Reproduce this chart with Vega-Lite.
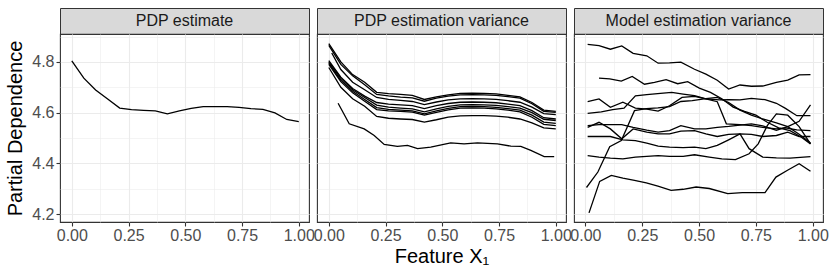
{
 "$schema": "https://vega.github.io/schema/vega-lite/v6.json",
 "padding": {"left": 5, "top": 7, "right": 0, "bottom": 0},
 "background": "white",
 "config": {
  "view": {"stroke": "#333333", "strokeWidth": 1.1},
  "axis": {"domain": false, "gridColor": "#EBEBEB", "tickColor": "#333333", "tickSize": 4, "tickWidth": 1.1, "labelFont": "Liberation Sans", "labelFontSize": 16, "labelColor": "#4D4D4D", "labelOverlap": false, "labelFlush": false, "titleFont": "Liberation Sans", "titleFontSize": 20, "titleFontWeight": "normal", "titleColor": "#000000", "labelPadding": 2}
 },
 "datasets": {
  "pdp": [
   {"run":"p","x":0,"y":4.804},{"run":"p","x":0.053,"y":4.736},{"run":"p","x":0.105,"y":4.689},{"run":"p","x":0.158,"y":4.654},{"run":"p","x":0.211,"y":4.618},{"run":"p","x":0.263,"y":4.612},{"run":"p","x":0.316,"y":4.609},{"run":"p","x":0.368,"y":4.607},{"run":"p","x":0.421,"y":4.595},{"run":"p","x":0.474,"y":4.607},{"run":"p","x":0.526,"y":4.617},{"run":"p","x":0.579,"y":4.624},{"run":"p","x":0.632,"y":4.624},{"run":"p","x":0.684,"y":4.624},{"run":"p","x":0.737,"y":4.621},{"run":"p","x":0.789,"y":4.616},{"run":"p","x":0.842,"y":4.613},{"run":"p","x":0.895,"y":4.599},{"run":"p","x":0.947,"y":4.573},{"run":"p","x":1,"y":4.565}
  ],
  "pdpvar": [
   {"run":"1","x":0,"y":4.872},{"run":"1","x":0.053,"y":4.8},{"run":"1","x":0.105,"y":4.75},{"run":"1","x":0.158,"y":4.72},{"run":"1","x":0.211,"y":4.68},{"run":"1","x":0.263,"y":4.675},{"run":"1","x":0.316,"y":4.672},{"run":"1","x":0.368,"y":4.668},{"run":"1","x":0.421,"y":4.652},{"run":"1","x":0.474,"y":4.662},{"run":"1","x":0.526,"y":4.67},{"run":"1","x":0.579,"y":4.676},{"run":"1","x":0.632,"y":4.677},{"run":"1","x":0.684,"y":4.676},{"run":"1","x":0.737,"y":4.674},{"run":"1","x":0.789,"y":4.668},{"run":"1","x":0.842,"y":4.662},{"run":"1","x":0.895,"y":4.64},{"run":"1","x":0.947,"y":4.61},{"run":"1","x":1,"y":4.605},
   {"run":"2","x":0,"y":4.865},{"run":"2","x":0.053,"y":4.79},{"run":"2","x":0.105,"y":4.745},{"run":"2","x":0.158,"y":4.71},{"run":"2","x":0.211,"y":4.672},{"run":"2","x":0.263,"y":4.666},{"run":"2","x":0.316,"y":4.661},{"run":"2","x":0.368,"y":4.658},{"run":"2","x":0.421,"y":4.645},{"run":"2","x":0.474,"y":4.657},{"run":"2","x":0.526,"y":4.665},{"run":"2","x":0.579,"y":4.67},{"run":"2","x":0.632,"y":4.671},{"run":"2","x":0.684,"y":4.67},{"run":"2","x":0.737,"y":4.668},{"run":"2","x":0.789,"y":4.663},{"run":"2","x":0.842,"y":4.657},{"run":"2","x":0.895,"y":4.635},{"run":"2","x":0.947,"y":4.605},{"run":"2","x":1,"y":4.601},
   {"run":"3","x":0.013,"y":4.835},{"run":"3","x":0.053,"y":4.77},{"run":"3","x":0.105,"y":4.72},{"run":"3","x":0.158,"y":4.69},{"run":"3","x":0.211,"y":4.66},{"run":"3","x":0.263,"y":4.652},{"run":"3","x":0.316,"y":4.648},{"run":"3","x":0.368,"y":4.644},{"run":"3","x":0.421,"y":4.632},{"run":"3","x":0.474,"y":4.642},{"run":"3","x":0.526,"y":4.65},{"run":"3","x":0.579,"y":4.654},{"run":"3","x":0.632,"y":4.655},{"run":"3","x":0.684,"y":4.654},{"run":"3","x":0.737,"y":4.652},{"run":"3","x":0.789,"y":4.647},{"run":"3","x":0.842,"y":4.641},{"run":"3","x":0.895,"y":4.622},{"run":"3","x":0.947,"y":4.596},{"run":"3","x":1,"y":4.592},
   {"run":"4","x":0,"y":4.805},{"run":"4","x":0.053,"y":4.74},{"run":"4","x":0.105,"y":4.695},{"run":"4","x":0.158,"y":4.665},{"run":"4","x":0.211,"y":4.64},{"run":"4","x":0.263,"y":4.634},{"run":"4","x":0.316,"y":4.631},{"run":"4","x":0.368,"y":4.628},{"run":"4","x":0.421,"y":4.616},{"run":"4","x":0.474,"y":4.628},{"run":"4","x":0.526,"y":4.636},{"run":"4","x":0.579,"y":4.641},{"run":"4","x":0.632,"y":4.642},{"run":"4","x":0.684,"y":4.641},{"run":"4","x":0.737,"y":4.639},{"run":"4","x":0.789,"y":4.634},{"run":"4","x":0.842,"y":4.628},{"run":"4","x":0.895,"y":4.608},{"run":"4","x":0.947,"y":4.58},{"run":"4","x":1,"y":4.575},
   {"run":"5","x":0,"y":4.8},{"run":"5","x":0.053,"y":4.735},{"run":"5","x":0.105,"y":4.69},{"run":"5","x":0.158,"y":4.66},{"run":"5","x":0.211,"y":4.63},{"run":"5","x":0.263,"y":4.622},{"run":"5","x":0.316,"y":4.618},{"run":"5","x":0.368,"y":4.615},{"run":"5","x":0.421,"y":4.603},{"run":"5","x":0.474,"y":4.615},{"run":"5","x":0.526,"y":4.625},{"run":"5","x":0.579,"y":4.631},{"run":"5","x":0.632,"y":4.632},{"run":"5","x":0.684,"y":4.631},{"run":"5","x":0.737,"y":4.629},{"run":"5","x":0.789,"y":4.624},{"run":"5","x":0.842,"y":4.618},{"run":"5","x":0.895,"y":4.6},{"run":"5","x":0.947,"y":4.574},{"run":"5","x":1,"y":4.569},
   {"run":"6","x":0,"y":4.795},{"run":"6","x":0.053,"y":4.728},{"run":"6","x":0.105,"y":4.684},{"run":"6","x":0.158,"y":4.652},{"run":"6","x":0.211,"y":4.62},{"run":"6","x":0.263,"y":4.613},{"run":"6","x":0.316,"y":4.61},{"run":"6","x":0.368,"y":4.607},{"run":"6","x":0.421,"y":4.595},{"run":"6","x":0.474,"y":4.607},{"run":"6","x":0.526,"y":4.617},{"run":"6","x":0.579,"y":4.624},{"run":"6","x":0.632,"y":4.625},{"run":"6","x":0.684,"y":4.624},{"run":"6","x":0.737,"y":4.621},{"run":"6","x":0.789,"y":4.616},{"run":"6","x":0.842,"y":4.61},{"run":"6","x":0.895,"y":4.59},{"run":"6","x":0.947,"y":4.563},{"run":"6","x":1,"y":4.558},
   {"run":"7","x":0,"y":4.79},{"run":"7","x":0.053,"y":4.722},{"run":"7","x":0.105,"y":4.678},{"run":"7","x":0.158,"y":4.645},{"run":"7","x":0.211,"y":4.612},{"run":"7","x":0.263,"y":4.607},{"run":"7","x":0.316,"y":4.605},{"run":"7","x":0.368,"y":4.602},{"run":"7","x":0.421,"y":4.59},{"run":"7","x":0.474,"y":4.601},{"run":"7","x":0.526,"y":4.611},{"run":"7","x":0.579,"y":4.618},{"run":"7","x":0.632,"y":4.619},{"run":"7","x":0.684,"y":4.618},{"run":"7","x":0.737,"y":4.615},{"run":"7","x":0.789,"y":4.61},{"run":"7","x":0.842,"y":4.603},{"run":"7","x":0.895,"y":4.582},{"run":"7","x":0.947,"y":4.554},{"run":"7","x":1,"y":4.549},
   {"run":"8","x":0,"y":4.778},{"run":"8","x":0.053,"y":4.7},{"run":"8","x":0.105,"y":4.655},{"run":"8","x":0.158,"y":4.625},{"run":"8","x":0.211,"y":4.585},{"run":"8","x":0.263,"y":4.578},{"run":"8","x":0.316,"y":4.575},{"run":"8","x":0.368,"y":4.573},{"run":"8","x":0.421,"y":4.563},{"run":"8","x":0.474,"y":4.572},{"run":"8","x":0.526,"y":4.582},{"run":"8","x":0.579,"y":4.587},{"run":"8","x":0.632,"y":4.588},{"run":"8","x":0.684,"y":4.588},{"run":"8","x":0.737,"y":4.586},{"run":"8","x":0.789,"y":4.582},{"run":"8","x":0.842,"y":4.575},{"run":"8","x":0.895,"y":4.56},{"run":"8","x":0.947,"y":4.54},{"run":"8","x":1,"y":4.536},
   {"run":"9","x":0.041,"y":4.637},{"run":"9","x":0.09,"y":4.556},{"run":"9","x":0.156,"y":4.536},{"run":"9","x":0.2,"y":4.51},{"run":"9","x":0.244,"y":4.475},{"run":"9","x":0.302,"y":4.467},{"run":"9","x":0.347,"y":4.471},{"run":"9","x":0.391,"y":4.458},{"run":"9","x":0.449,"y":4.464},{"run":"9","x":0.537,"y":4.481},{"run":"9","x":0.596,"y":4.477},{"run":"9","x":0.655,"y":4.481},{"run":"9","x":0.743,"y":4.477},{"run":"9","x":0.802,"y":4.468},{"run":"9","x":0.846,"y":4.467},{"run":"9","x":0.89,"y":4.451},{"run":"9","x":0.949,"y":4.427},{"run":"9","x":0.993,"y":4.427}
  ],
  "modelvar": [
   {"run":"1","x":0.01,"y":4.869},{"run":"1","x":0.06,"y":4.864},{"run":"1","x":0.11,"y":4.85},{"run":"1","x":0.16,"y":4.863},{"run":"1","x":0.21,"y":4.834},{"run":"1","x":0.27,"y":4.824},{"run":"1","x":0.32,"y":4.795},{"run":"1","x":0.37,"y":4.796},{"run":"1","x":0.42,"y":4.799},{"run":"1","x":0.48,"y":4.771},{"run":"1","x":0.53,"y":4.752},{"run":"1","x":0.58,"y":4.728},{"run":"1","x":0.63,"y":4.693},{"run":"1","x":0.68,"y":4.709},{"run":"1","x":0.73,"y":4.704},{"run":"1","x":0.78,"y":4.705},{"run":"1","x":0.84,"y":4.719},{"run":"1","x":0.89,"y":4.728},{"run":"1","x":0.94,"y":4.749},{"run":"1","x":0.99,"y":4.75},
   {"run":"2","x":0.06,"y":4.736},{"run":"2","x":0.107,"y":4.733},{"run":"2","x":0.158,"y":4.724},{"run":"2","x":0.206,"y":4.743},{"run":"2","x":0.26,"y":4.712},{"run":"2","x":0.304,"y":4.719},{"run":"2","x":0.355,"y":4.73},{"run":"2","x":0.406,"y":4.714},{"run":"2","x":0.45,"y":4.722},{"run":"2","x":0.501,"y":4.697},{"run":"2","x":0.55,"y":4.68},{"run":"2","x":0.6,"y":4.655},{"run":"2","x":0.65,"y":4.622},{"run":"2","x":0.7,"y":4.605},{"run":"2","x":0.75,"y":4.59},{"run":"2","x":0.8,"y":4.562},{"run":"2","x":0.85,"y":4.54},{"run":"2","x":0.9,"y":4.529},{"run":"2","x":0.95,"y":4.503},{"run":"2","x":0.99,"y":4.477},
   {"run":"3","x":0.01,"y":4.643},{"run":"3","x":0.06,"y":4.654},{"run":"3","x":0.11,"y":4.621},{"run":"3","x":0.165,"y":4.641},{"run":"3","x":0.22,"y":4.618},{"run":"3","x":0.27,"y":4.614},{"run":"3","x":0.32,"y":4.606},{"run":"3","x":0.37,"y":4.627},{"run":"3","x":0.425,"y":4.66},{"run":"3","x":0.48,"y":4.664},{"run":"3","x":0.53,"y":4.654},{"run":"3","x":0.59,"y":4.65},{"run":"3","x":0.63,"y":4.651},{"run":"3","x":0.68,"y":4.65},{"run":"3","x":0.73,"y":4.656},{"run":"3","x":0.79,"y":4.651},{"run":"3","x":0.84,"y":4.637},{"run":"3","x":0.88,"y":4.617},{"run":"3","x":0.93,"y":4.588},{"run":"3","x":0.99,"y":4.588},
   {"run":"4","x":0.01,"y":4.597},{"run":"4","x":0.07,"y":4.603},{"run":"4","x":0.12,"y":4.612},{"run":"4","x":0.17,"y":4.618},{"run":"4","x":0.22,"y":4.666},{"run":"4","x":0.27,"y":4.671},{"run":"4","x":0.33,"y":4.676},{"run":"4","x":0.38,"y":4.68},{"run":"4","x":0.43,"y":4.673},{"run":"4","x":0.48,"y":4.667},{"run":"4","x":0.53,"y":4.654},{"run":"4","x":0.58,"y":4.643},{"run":"4","x":0.62,"y":4.556},{"run":"4","x":0.68,"y":4.553},{"run":"4","x":0.73,"y":4.549},{"run":"4","x":0.78,"y":4.542},{"run":"4","x":0.84,"y":4.536},{"run":"4","x":0.88,"y":4.54},{"run":"4","x":0.93,"y":4.532},{"run":"4","x":0.99,"y":4.529},
   {"run":"5","x":0.005,"y":4.305},{"run":"5","x":0.055,"y":4.366},{"run":"5","x":0.107,"y":4.466},{"run":"5","x":0.158,"y":4.49},{"run":"5","x":0.216,"y":4.608},{"run":"5","x":0.268,"y":4.616},{"run":"5","x":0.319,"y":4.619},{"run":"5","x":0.37,"y":4.624},{"run":"5","x":0.42,"y":4.644},{"run":"5","x":0.47,"y":4.647},{"run":"5","x":0.53,"y":4.655},{"run":"5","x":0.58,"y":4.66},{"run":"5","x":0.63,"y":4.64},{"run":"5","x":0.68,"y":4.61},{"run":"5","x":0.73,"y":4.59},{"run":"5","x":0.78,"y":4.575},{"run":"5","x":0.84,"y":4.56},{"run":"5","x":0.89,"y":4.545},{"run":"5","x":0.94,"y":4.515},{"run":"5","x":0.99,"y":4.48},
   {"run":"6","x":0.01,"y":4.549},{"run":"6","x":0.06,"y":4.553},{"run":"6","x":0.11,"y":4.553},{"run":"6","x":0.16,"y":4.553},{"run":"6","x":0.21,"y":4.542},{"run":"6","x":0.27,"y":4.531},{"run":"6","x":0.32,"y":4.523},{"run":"6","x":0.37,"y":4.529},{"run":"6","x":0.42,"y":4.549},{"run":"6","x":0.48,"y":4.536},{"run":"6","x":0.53,"y":4.536},{"run":"6","x":0.58,"y":4.542},{"run":"6","x":0.63,"y":4.546},{"run":"6","x":0.68,"y":4.551},{"run":"6","x":0.73,"y":4.556},{"run":"6","x":0.78,"y":4.548},{"run":"6","x":0.84,"y":4.53},{"run":"6","x":0.89,"y":4.545},{"run":"6","x":0.94,"y":4.566},{"run":"6","x":0.99,"y":4.631},
   {"run":"7","x":0.01,"y":4.542},{"run":"7","x":0.06,"y":4.562},{"run":"7","x":0.11,"y":4.536},{"run":"7","x":0.16,"y":4.497},{"run":"7","x":0.21,"y":4.536},{"run":"7","x":0.27,"y":4.523},{"run":"7","x":0.32,"y":4.516},{"run":"7","x":0.37,"y":4.516},{"run":"7","x":0.42,"y":4.527},{"run":"7","x":0.48,"y":4.529},{"run":"7","x":0.53,"y":4.516},{"run":"7","x":0.58,"y":4.506},{"run":"7","x":0.63,"y":4.514},{"run":"7","x":0.68,"y":4.516},{"run":"7","x":0.73,"y":4.514},{"run":"7","x":0.78,"y":4.506},{"run":"7","x":0.84,"y":4.51},{"run":"7","x":0.89,"y":4.523},{"run":"7","x":0.94,"y":4.506},{"run":"7","x":0.99,"y":4.506},
   {"run":"8","x":0.01,"y":4.506},{"run":"8","x":0.06,"y":4.506},{"run":"8","x":0.11,"y":4.506},{"run":"8","x":0.165,"y":4.493},{"run":"8","x":0.22,"y":4.49},{"run":"8","x":0.27,"y":4.48},{"run":"8","x":0.32,"y":4.468},{"run":"8","x":0.37,"y":4.464},{"run":"8","x":0.43,"y":4.462},{"run":"8","x":0.48,"y":4.464},{"run":"8","x":0.53,"y":4.458},{"run":"8","x":0.58,"y":4.471},{"run":"8","x":0.63,"y":4.493},{"run":"8","x":0.68,"y":4.516},{"run":"8","x":0.72,"y":4.458},{"run":"8","x":0.78,"y":4.425},{"run":"8","x":0.84,"y":4.422},{"run":"8","x":0.9,"y":4.421},{"run":"8","x":0.99,"y":4.427},
   {"run":"9","x":0.01,"y":4.431},{"run":"9","x":0.06,"y":4.425},{"run":"9","x":0.11,"y":4.421},{"run":"9","x":0.165,"y":4.418},{"run":"9","x":0.22,"y":4.425},{"run":"9","x":0.27,"y":4.428},{"run":"9","x":0.32,"y":4.431},{"run":"9","x":0.37,"y":4.428},{"run":"9","x":0.43,"y":4.428},{"run":"9","x":0.48,"y":4.434},{"run":"9","x":0.545,"y":4.425},{"run":"9","x":0.6,"y":4.418},{"run":"9","x":0.66,"y":4.415},{"run":"9","x":0.72,"y":4.438},{"run":"9","x":0.76,"y":4.477},{"run":"9","x":0.8,"y":4.549},{"run":"9","x":0.84,"y":4.595},{"run":"9","x":0.89,"y":4.59},{"run":"9","x":0.94,"y":4.545},{"run":"9","x":0.99,"y":4.477},
   {"run":"10","x":0.016,"y":4.205},{"run":"10","x":0.063,"y":4.329},{"run":"10","x":0.114,"y":4.353},{"run":"10","x":0.165,"y":4.342},{"run":"10","x":0.216,"y":4.333},{"run":"10","x":0.268,"y":4.323},{"run":"10","x":0.319,"y":4.31},{"run":"10","x":0.377,"y":4.294},{"run":"10","x":0.43,"y":4.298},{"run":"10","x":0.487,"y":4.307},{"run":"10","x":0.545,"y":4.301},{"run":"10","x":0.626,"y":4.281},{"run":"10","x":0.69,"y":4.285},{"run":"10","x":0.79,"y":4.285},{"run":"10","x":0.838,"y":4.346},{"run":"10","x":0.889,"y":4.373},{"run":"10","x":0.94,"y":4.399},{"run":"10","x":0.99,"y":4.369}
  ]
 },
 "spacing": -3,
 "hconcat": [
  {"spacing": 0, "bounds": "flush", "vconcat": [
   {"data": {"values": [{"t": "PDP estimate"}]}, "width": 249, "height": 26, "view": {"fill": "#D9D9D9", "stroke": "#333333"},
    "mark": {"type": "text", "fontSize": 16, "color": "#1A1A1A", "font": "Liberation Sans"}, "encoding": {"text": {"field": "t", "type": "nominal"}}},
   {"data": {"name": "pdp"}, "width": 249, "height": 188,
    "mark": {"type": "line", "color": "#000000", "strokeWidth": 1.3},
    "encoding": {
     "x": {"field": "x", "type": "quantitative", "scale": {"domain": [-0.052, 1.045], "nice": false, "zero": false},
      "axis": {"title": null, "values": [0,0.125,0.25,0.375,0.5,0.625,0.75,0.875,1], "labelPadding": 1,
       "labelExpr": "abs(datum.value*4-round(datum.value*4))<0.001 ? format(datum.value,'.2f') : ''",
       "tickOpacity": {"condition": {"test": "abs(datum.value*4-round(datum.value*4))<0.001", "value": 1}, "value": 0},
       "gridWidth": {"condition": {"test": "abs(datum.value*4-round(datum.value*4))<0.001", "value": 1.1}, "value": 0.55}}},
     "y": {"field": "y", "type": "quantitative", "scale": {"domain": [4.169, 4.91], "nice": false, "zero": false},
      "axis": {"title": "Partial Dependence", "titlePadding": 6, "values": [4.2,4.3,4.4,4.5,4.6,4.7,4.8,4.9],
       "labelExpr": "abs(datum.value*5-round(datum.value*5))<0.001 ? format(datum.value,'.1f') : ''",
       "tickOpacity": {"condition": {"test": "abs(datum.value*5-round(datum.value*5))<0.001", "value": 1}, "value": 0},
       "gridWidth": {"condition": {"test": "abs(datum.value*5-round(datum.value*5))<0.001", "value": 1.1}, "value": 0.55}}},
     "detail": {"field": "run", "type": "nominal"}
    }}
  ]},
  {"spacing": 0, "bounds": "flush", "vconcat": [
   {"data": {"values": [{"t": "PDP estimation variance"}]}, "width": 249, "height": 26, "view": {"fill": "#D9D9D9", "stroke": "#333333"},
    "mark": {"type": "text", "fontSize": 16, "color": "#1A1A1A", "font": "Liberation Sans"}, "encoding": {"text": {"field": "t", "type": "nominal"}}},
   {"data": {"name": "pdpvar"}, "width": 249, "height": 188,
    "mark": {"type": "line", "color": "#000000", "strokeWidth": 1.3},
    "encoding": {
     "x": {"field": "x", "type": "quantitative", "scale": {"domain": [-0.052, 1.045], "nice": false, "zero": false},
      "axis": {"title": "Feature X₁", "titlePadding": 3, "values": [0,0.125,0.25,0.375,0.5,0.625,0.75,0.875,1], "labelPadding": 1,
       "labelExpr": "abs(datum.value*4-round(datum.value*4))<0.001 ? format(datum.value,'.2f') : ''",
       "tickOpacity": {"condition": {"test": "abs(datum.value*4-round(datum.value*4))<0.001", "value": 1}, "value": 0},
       "gridWidth": {"condition": {"test": "abs(datum.value*4-round(datum.value*4))<0.001", "value": 1.1}, "value": 0.55}}},
     "y": {"field": "y", "type": "quantitative", "scale": {"domain": [4.169, 4.91], "nice": false, "zero": false},
      "axis": {"title": null, "labels": false, "ticks": false, "values": [4.2,4.3,4.4,4.5,4.6,4.7,4.8,4.9],
       "gridWidth": {"condition": {"test": "abs(datum.value*5-round(datum.value*5))<0.001", "value": 1.1}, "value": 0.55}}},
     "detail": {"field": "run", "type": "nominal"}
    }}
  ]},
  {"spacing": 0, "bounds": "flush", "vconcat": [
   {"data": {"values": [{"t": "Model estimation variance"}]}, "width": 249, "height": 26, "view": {"fill": "#D9D9D9", "stroke": "#333333"},
    "mark": {"type": "text", "fontSize": 16, "color": "#1A1A1A", "font": "Liberation Sans"}, "encoding": {"text": {"field": "t", "type": "nominal"}}},
   {"data": {"name": "modelvar"}, "width": 249, "height": 188,
    "mark": {"type": "line", "color": "#000000", "strokeWidth": 1.3},
    "encoding": {
     "x": {"field": "x", "type": "quantitative", "scale": {"domain": [-0.05, 1.045], "nice": false, "zero": false},
      "axis": {"title": null, "values": [0,0.125,0.25,0.375,0.5,0.625,0.75,0.875,1], "labelPadding": 1,
       "labelExpr": "abs(datum.value*4-round(datum.value*4))<0.001 ? format(datum.value,'.2f') : ''",
       "tickOpacity": {"condition": {"test": "abs(datum.value*4-round(datum.value*4))<0.001", "value": 1}, "value": 0},
       "gridWidth": {"condition": {"test": "abs(datum.value*4-round(datum.value*4))<0.001", "value": 1.1}, "value": 0.55}}},
     "y": {"field": "y", "type": "quantitative", "scale": {"domain": [4.169, 4.91], "nice": false, "zero": false},
      "axis": {"title": null, "labels": false, "ticks": false, "values": [4.2,4.3,4.4,4.5,4.6,4.7,4.8,4.9],
       "gridWidth": {"condition": {"test": "abs(datum.value*5-round(datum.value*5))<0.001", "value": 1.1}, "value": 0.55}}},
     "detail": {"field": "run", "type": "nominal"}
    }}
  ]}
 ]
}
